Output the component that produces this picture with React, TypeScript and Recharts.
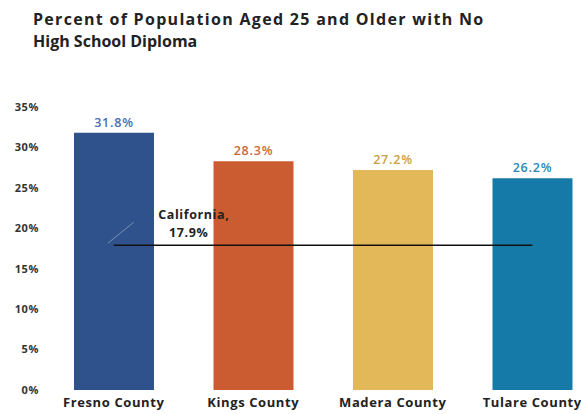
import React from 'react';
import {
  ComposedChart,
  Bar,
  Cell,
  XAxis,
  YAxis,
  LabelList,
  ReferenceLine,
} from 'recharts';

const counties = ['Fresno County', 'Kings County', 'Madera County', 'Tulare County'];
const noDiploma = [31.8, 28.3, 27.2, 26.2];
const barColors = ['#2f528c', '#cb5b30', '#e3b859', '#157aa7'];
const labelColors = ['#4a6db0', '#d0653a', '#c9a141', '#2d86b5'];
const californiaRate = 17.9;
const yTicks = [0, 5, 10, 15, 20, 25, 30, 35];

const data = counties.map((name, i) => ({ name, value: noDiploma[i] }));

const FONT = '"Open Sans", sans-serif';

const CaliforniaLabel = (props: any) => {
  const { viewBox } = props;
  if (!viewBox) return null;
  const x = viewBox.x;
  const y = viewBox.y;
  const style = { letterSpacing: '0.6px' };
  return (
    <g>
      <line x1={x - 6} y1={y - 2} x2={x + 20} y2={y - 23} stroke="rgba(255,255,255,0.35)" strokeWidth={1} />
      <text x={x + 80} y={y - 26} textAnchor="middle" fontFamily={FONT} fontWeight={700} fontSize={12.5} fill="#222" style={style}>
        California,
      </text>
      <text x={x + 75} y={y - 8} textAnchor="middle" fontFamily={FONT} fontWeight={700} fontSize={12.5} fill="#222" style={style}>
        17.9%
      </text>
    </g>
  );
};

const ValueLabel = (props: any) => {
  const { x, y, width, value, index } = props;
  return (
    <text
      x={x + width / 2}
      y={y - 6}
      textAnchor="middle"
      fontFamily={FONT}
      fontWeight={600}
      fontSize={12.5}
      fill={labelColors[index]}
      style={{ letterSpacing: '0.8px' }}
    >
      {value.toFixed(1)}%
    </text>
  );
};

export default function App() {
  return (
    <div
      style={{
        position: 'absolute',
        left: 0,
        top: 0,
        width: 581,
        height: 414,
        overflow: 'hidden',
        background: '#fff',
      }}
    >
      <div
        style={{
          position: 'absolute',
          left: 33,
          top: 8,
          fontFamily: FONT,
          fontWeight: 700,
          fontSize: 16,
          lineHeight: '22px',
          color: '#222',
          whiteSpace: 'nowrap',
        }}
      >
        <span style={{ letterSpacing: '1.3px' }}>Percent of Population Aged 25 and Older with No</span>
        <br />
        High School Diploma
      </div>
      <div style={{ position: 'absolute', left: 0, top: 0 }}>
        <ComposedChart
          width={602}
          height={414}
          data={data}
          margin={{ top: 107, right: 0, left: 0, bottom: 0 }}
          barCategoryGap="21.5%"
        >
          <XAxis
            dataKey="name"
            interval={0}
            axisLine={false}
            tickLine={false}
            height={24}
            tick={{ fontFamily: FONT, fontWeight: 700, fontSize: 13, fill: '#222', style: { letterSpacing: '0.6px' } }}
          />
          <YAxis
            width={44}
            domain={[0, 35]}
            ticks={yTicks}
            axisLine={false}
            tickLine={false}
            tickSize={3}
            tickMargin={2}
            tickFormatter={(v: number) => `${v}%`}
            tick={{ fontFamily: FONT, fontWeight: 700, fontSize: 11, fill: '#333', style: { letterSpacing: '0.6px' } }}
          />
          <Bar dataKey="value" isAnimationActive={false}>
            {data.map((d, i) => (
              <Cell key={d.name} fill={barColors[i]} />
            ))}
            <LabelList dataKey="value" content={<ValueLabel />} />
          </Bar>
          <ReferenceLine
            segment={[
              { x: counties[0], y: californiaRate },
              { x: counties[counties.length - 1], y: californiaRate },
            ]}
            stroke="#111"
            strokeWidth={1.5}
            label={<CaliforniaLabel />}
          />
        </ComposedChart>
      </div>
    </div>
  );
}
